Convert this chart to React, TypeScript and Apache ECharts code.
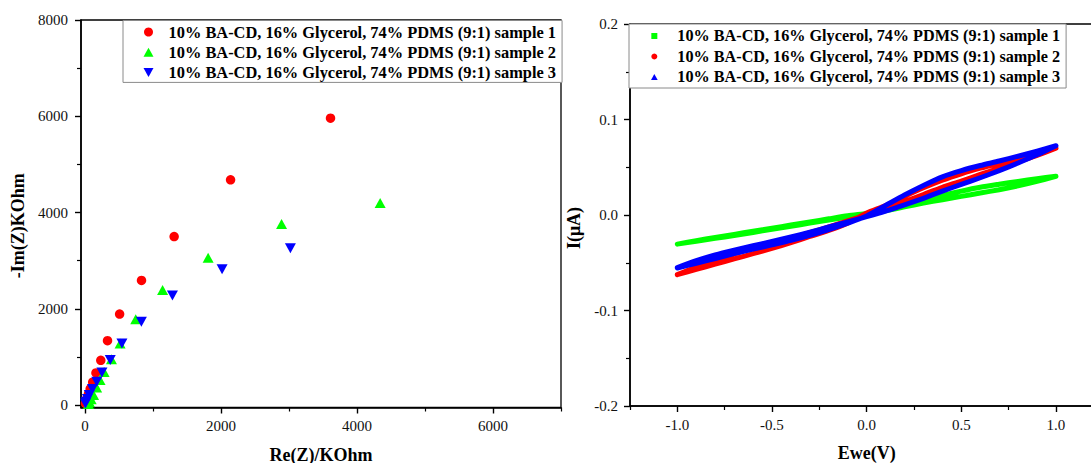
import React, { useEffect, useRef } from 'react';
import * as echarts from 'echarts';

const FONT = '"Liberation Serif", "Times New Roman", serif';

const sampleNames = [
  '10% BA-CD, 16% Glycerol, 74% PDMS (9:1) sample 1',
  '10% BA-CD, 16% Glycerol, 74% PDMS (9:1) sample 2',
  '10% BA-CD, 16% Glycerol, 74% PDMS (9:1) sample 3',
];

// ---------- Left panel: Nyquist plot (Re(Z), -Im(Z)) in KOhm ----------
const nyquistSample1: [number, number][] = [
  [3610, 5960], [2140, 4680], [1310, 3500], [830, 2590], [508, 1890], [330, 1338],
  [231, 930], [160, 668], [112, 476], [75, 335], [50, 235], [33, 165], [22, 115],
  [14, 80], [9, 55], [5, 35],
];
const nyquistSample2: [number, number][] = [
  [4340, 4200], [2890, 3760], [1810, 3060], [1140, 2390], [745, 1785], [515, 1280],
  [388, 950], [280, 690], [220, 520], [170, 365], [125, 210], [90, 120], [65, 60], [50, 25],
];
const nyquistSample3: [number, number][] = [
  [3020, 3260], [2015, 2820], [1285, 2275], [828, 1731], [542, 1282], [370, 935],
  [248, 676], [172, 485], [108, 335], [62, 210], [34, 128], [15, 70], [5, 35],
];
const reMajorTicks = [0, 2000, 4000, 6000];
const reMinorTicks = [1000, 3000, 5000, 7000];
const imMajorTicks = [0, 2000, 4000, 6000, 8000];
const imMinorTicks = [1000, 3000, 5000, 7000];

// ---------- Right panel: cyclic voltammetry, I(uA) vs Ewe(V) ----------
const cvVoltage = [
  -1.0, -0.9, -0.8, -0.7, -0.6, -0.5, -0.4, -0.3, -0.2, -0.1, 0.0,
  0.1, 0.2, 0.3, 0.4, 0.5, 0.6, 0.7, 0.8, 0.9, 1.0,
];
// branch A (steeper) and branch B (shallower), both listed at cvVoltage
const cvSample1A = [
  -0.0305, -0.0275, -0.0245, -0.0215, -0.0183, -0.0150, -0.0118, -0.0085, -0.0053, -0.0020, 0.0012,
  0.0050, 0.0100, 0.0155, 0.0205, 0.0250, 0.0290, 0.0322, 0.0352, 0.0380, 0.0405,
];
const cvSample1B = [
  -0.0305, -0.0268, -0.0235, -0.0203, -0.0170, -0.0138, -0.0105, -0.0073, -0.0040, -0.0008, 0.0015,
  0.0045, 0.0085, 0.0125, 0.0160, 0.0195, 0.0230, 0.0265, 0.0305, 0.0352, 0.0405,
];
const cvSample2A = [
  -0.0625, -0.0570, -0.0515, -0.0460, -0.0405, -0.0350, -0.0290, -0.0225, -0.0160, -0.0085, 0.0020,
  0.0100, 0.0195, 0.0285, 0.0365, 0.0432, 0.0490, 0.0542, 0.0592, 0.0643, 0.0700,
];
const cvSample2B = [
  -0.0625, -0.0545, -0.0472, -0.0405, -0.0345, -0.0292, -0.0240, -0.0185, -0.0125, -0.0062, 0.0000,
  0.0065, 0.0140, 0.0215, 0.0290, 0.0355, 0.0425, 0.0490, 0.0555, 0.0625, 0.0700,
];
const cvSample3A = [
  -0.0555, -0.0505, -0.0455, -0.0405, -0.0358, -0.0312, -0.0265, -0.0212, -0.0152, -0.0085, -0.0010,
  0.0100, 0.0210, 0.0310, 0.0400, 0.0465, 0.0518, 0.0565, 0.0615, 0.0668, 0.0725,
];
const cvSample3B = [
  -0.0550, -0.0478, -0.0418, -0.0368, -0.0322, -0.0278, -0.0230, -0.0180, -0.0126, -0.0072, -0.0018,
  0.0040, 0.0105, 0.0175, 0.0250, 0.0320, 0.0390, 0.0465, 0.0545, 0.0630, 0.0725,
];
const eweMajorTicks = [-1.0, -0.5, 0.0, 0.5, 1.0];
const eweMinorTicks = [-1.25, -0.75, -0.25, 0.25, 0.75, 1.25];
const iMajorTicks = [-0.2, -0.1, 0.0, 0.1, 0.2];
const iMinorTicks = [-0.15, -0.05, 0.05, 0.15];

const loop = (a: number[], b: number[]) => [
  ...cvVoltage.map((v, i) => [v, a[i]]),
  ...cvVoltage.map((v, i) => [v, b[i]]).reverse(),
];

const labelStyle = { fontFamily: FONT, fontSize: 15, color: '#111' };
const titleStyle = { fontFamily: FONT, fontSize: 18, fontWeight: 'bold' as const, color: '#000' };

function axisPair(
  dim: 'x' | 'y',
  min: number,
  max: number,
  major: number[],
  minor: number[],
  fmt: (v: number) => string,
  name: string,
  nameGap: number,
  margin: number,
  namePadding?: number[],
) {
  const position = dim === 'x' ? 'bottom' : 'left';
  return [
    {
      type: 'value',
      min,
      max,
      position,
      name,
      nameLocation: 'middle',
      nameGap,
      nameTextStyle: { ...titleStyle, padding: namePadding || 0 },
      axisLine: { show: true, onZero: false, lineStyle: { color: '#000', width: 1.6 } },
      axisTick: { show: true, inside: false, length: 6, customValues: major, lineStyle: { color: '#000', width: 1.4 } },
      axisLabel: { show: true, customValues: major, margin, formatter: fmt, ...labelStyle },
      splitLine: { show: false },
    },
    {
      type: 'value',
      min,
      max,
      position,
      axisLine: { show: false, onZero: false },
      axisTick: { show: true, inside: false, length: 4, customValues: minor, lineStyle: { color: '#000', width: 1.2 } },
      axisLabel: { show: false },
      splitLine: { show: false },
    },
  ];
}

function legendOpt(left: number, top: number, icons: string[] | null, o: any) {
  return {
    orient: 'vertical',
    left,
    top,
    selectedMode: false,
    backgroundColor: '#fff',
    borderColor: '#8a8a8a',
    borderWidth: 1,
    symbolKeepAspect: true,
    textStyle: { fontFamily: FONT, fontWeight: 'bold', color: '#000' },
    data: sampleNames.map((n, i) => (icons ? { name: n, icon: icons[i] } : { name: n })),
    ...o,
  };
}

const upTriangle = 'path://M5,0L10,9L0,9Z';
const downTriangle = 'path://M0,0L10,0L5,9Z';
const square = 'path://M0,0L10,0L10,10L0,10Z';

const RIGHT_DIV_LEFT = 540;

export default function App() {
  const leftRef = useRef<HTMLDivElement>(null);
  const rightRef = useRef<HTMLDivElement>(null);

  useEffect(() => {
    const left = echarts.init(leftRef.current!, undefined, { renderer: 'svg' });
    const right = echarts.init(rightRef.current!, undefined, { renderer: 'svg' });

    left.setOption({
      animation: false,
      grid: {
        left: 81, top: 20, width: 480, height: 387.5, show: true, borderColor: '#000', borderWidth: 1.3,
        containLabel: false, outerBoundsMode: 'none',
      },
      legend: legendOpt(123, 20.5, null, {
        itemWidth: 30,
        itemHeight: 9,
        itemGap: 4.2,
        padding: [3.5, 6, 2, 20.5],
        textStyle: { fontFamily: FONT, fontWeight: 'bold', color: '#000', fontSize: 16.4 },
      }),
      xAxis: axisPair('x', -60, 7000, reMajorTicks, reMinorTicks, (v) => String(v), 'Re(Z)/KOhm', 38, 11),
      yAxis: axisPair('y', -50, 8000, imMajorTicks, imMinorTicks, (v) => String(v), '-Im(Z)KOhm', 43, 13, [0, 24, 0, 0]),
      series: [
        { name: sampleNames[0], type: 'scatter', data: nyquistSample1, symbol: 'circle', symbolSize: 9.5, itemStyle: { color: '#ff0000', opacity: 1 } },
        { name: sampleNames[1], type: 'scatter', data: nyquistSample2, symbol: upTriangle, symbolSize: [11, 10], itemStyle: { color: '#00ff00', opacity: 1 } },
        { name: sampleNames[2], type: 'scatter', data: nyquistSample3, symbol: downTriangle, symbolSize: [11, 10], itemStyle: { color: '#0000ff', opacity: 1 } },
      ],
    });

    const cvSeries = [
      { a: cvSample1A, b: cvSample1B, color: '#00ff00' },
      { a: cvSample2A, b: cvSample2B, color: '#ff0000' },
      { a: cvSample3A, b: cvSample3B, color: '#0000ff' },
    ];

    right.setOption({
      animation: false,
      grid: {
        left: 630 - RIGHT_DIV_LEFT, top: 24, width: 473.3, height: 382, show: true, borderColor: '#000', borderWidth: 1.3,
        containLabel: false, outerBoundsMode: 'none',
      },
      legend: legendOpt(629 - RIGHT_DIV_LEFT, 24, [square, 'circle', upTriangle], {
        itemWidth: 36,
        itemHeight: 6,
        itemGap: 4.5,
        padding: [4, 6, 3, 22],
        textStyle: { fontFamily: FONT, fontWeight: 'bold', color: '#000', fontSize: 16.2 },
      }),
      xAxis: axisPair('x', -1.25, 1.25, eweMajorTicks, eweMinorTicks, (v) => v.toFixed(1), 'Ewe(V)', 38, 11),
      yAxis: axisPair('y', -0.2, 0.2, iMajorTicks, iMinorTicks, (v) => v.toFixed(1), 'I(\u03bcA)', 46, 12, [0, 26, 0, 0]),
      series: cvSeries.map((s, i) => ({
        name: sampleNames[i],
        type: 'line',
        data: loop(s.a, s.b),
        showSymbol: false,
        symbol: 'none',
        smooth: 0.25,
        lineStyle: { color: s.color, width: 5, cap: 'round', join: 'round' },
        itemStyle: { color: s.color },
      })),
    });

    return () => {
      left.dispose();
      right.dispose();
    };
  }, []);

  return (
    <div style={{ position: 'fixed', left: 0, top: 0, width: 1091, height: 463, background: '#fff', overflow: 'hidden' }}>
      <div ref={leftRef} style={{ position: 'absolute', left: 0, top: 0, width: 566, height: 463 }} />
      <div ref={rightRef} style={{ position: 'absolute', left: RIGHT_DIV_LEFT, top: 0, width: 1091 - RIGHT_DIV_LEFT, height: 463 }} />
    </div>
  );
}
